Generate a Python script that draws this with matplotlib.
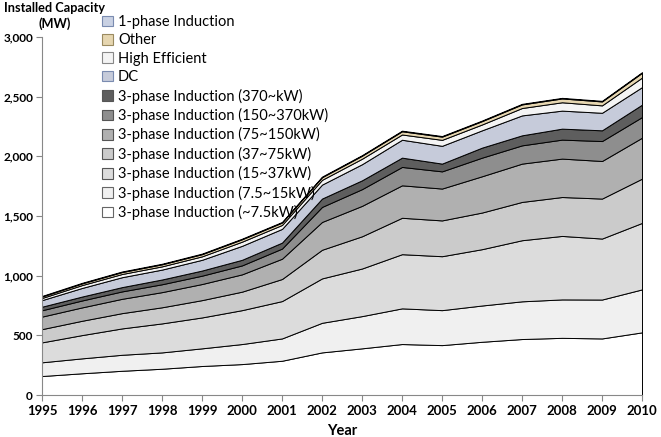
import matplotlib
matplotlib.use("Agg")
import matplotlib.pyplot as plt
from matplotlib.patches import Patch
from matplotlib.ticker import FuncFormatter

plt.rcParams['font.family'] = ['Lato', 'DejaVu Sans']

years = list(range(1995, 2011))

# MW per category, bottom of the stack first
ind_7_5 = [159, 182, 203, 220, 243, 259, 287, 357, 391, 427, 418, 446, 469, 479, 474, 525]
ind_15 = [115, 125, 134, 137, 148, 168, 187, 248, 270, 299, 293, 304, 316, 322, 326, 360]
ind_37 = [167, 195, 221, 243, 259, 284, 313, 372, 399, 454, 452, 472, 512, 532, 511, 557]
ind_75 = [111, 120, 128, 135, 145, 155, 185, 240, 270, 305, 300, 307, 321, 326, 335, 371]
ind_150 = [105, 112, 120, 127, 135, 145, 170, 233, 255, 272, 267, 304, 321, 322, 315, 343]
ind_370 = [53, 58, 62, 66, 70, 75, 85, 126, 140, 154, 144, 156, 153, 159, 167, 173]
ind_big = [30, 33, 36, 40, 43, 47, 50, 70, 74, 78, 65, 84, 84, 92, 90, 104]
dc = [55, 72, 83, 83, 90, 117, 115, 117, 135, 150, 149, 145, 167, 151, 147, 147]
high_eff = [18, 24, 27, 27, 29, 35, 33, 40, 46, 44, 50, 49, 62, 70, 62, 80]
other = [12, 14, 16, 17, 18, 20, 20, 22, 25, 27, 27, 28, 30, 32, 33, 40]
one_phase = [5, 5, 5, 5, 5, 5, 5, 5, 5, 5, 5, 5, 5, 5, 5, 5]

labels = ["3-phase Induction (~7.5kW)", "3-phase Induction (7.5~15kW)",
          "3-phase Induction (15~37kW)", "3-phase Induction (37~75kW)",
          "3-phase Induction (75~150kW)", "3-phase Induction (150~370kW)",
          "3-phase Induction (370~kW)", "DC", "High Efficient", "Other",
          "1-phase Induction"]
colors = ["#ffffff", "#f0f0f0", "#dcdcdc", "#cbcbcb", "#b0b0b0", "#8e8e8e",
          "#5e5e5e", "#c6cbda", "#f4f4f4", "#e6d6b0", "#c9d1e3"]
series = [ind_7_5, ind_15, ind_37, ind_75, ind_150, ind_370, ind_big,
          dc, high_eff, other, one_phase]

fig = plt.figure(figsize=(6.61, 4.37), dpi=100)
ax = fig.add_axes([42 / 661, 1 - 395 / 437, 600 / 661, 358 / 437])

ax.stackplot(years, *series, colors=colors, edgecolor="black", linewidth=0.7)

ax.set_xlim(1995, 2010)
ax.set_ylim(0, 3000)
ax.set_xticks(years)
ax.set_yticks(range(0, 3001, 500))
ax.yaxis.set_major_formatter(FuncFormatter(lambda v, p: "{:,}".format(int(v))))
ax.tick_params(labelsize=9.5, length=4, color="#888888", width=0.8)
ax.tick_params(axis="y", labelsize=8.5, pad=2.5)
for lab in ax.get_xticklabels() + ax.get_yticklabels():
    lab.set_fontweight("bold")

for s in ["top", "right"]:
    ax.spines[s].set_visible(False)
for s in ["left", "bottom"]:
    ax.spines[s].set_color("#888888")
    ax.spines[s].set_linewidth(0.8)

ax.set_xlabel("Year", fontsize=10.5, fontweight="bold", labelpad=5)
fig.text(55 / 661, 1 - 16 / 437, "Installed Capacity\n(MW)", ha="center", va="center",
         fontsize=9.2, fontweight="bold", linespacing=1.25)

edge = ["#7a8bb0", "#9a8a60", "#888888", "#7a8bb0", "#555555", "#555555",
        "#555555", "#555555", "#555555", "#666666", "#666666"]
handles = []
for i in range(len(series) - 1, -1, -1):
    handles.append(Patch(facecolor=colors[i], edgecolor=edge[len(series) - 1 - i],
                         linewidth=0.8, label=labels[i]))
fig.legend(handles=handles, loc="upper left", bbox_to_anchor=(102 / 661, 1 - 15 / 437),
           frameon=False, fontsize=10.5, handlelength=0.75, handleheight=0.75,
           handletextpad=0.35, labelspacing=0.3, borderpad=0, borderaxespad=0)

fig.savefig("out.png", dpi=100)
